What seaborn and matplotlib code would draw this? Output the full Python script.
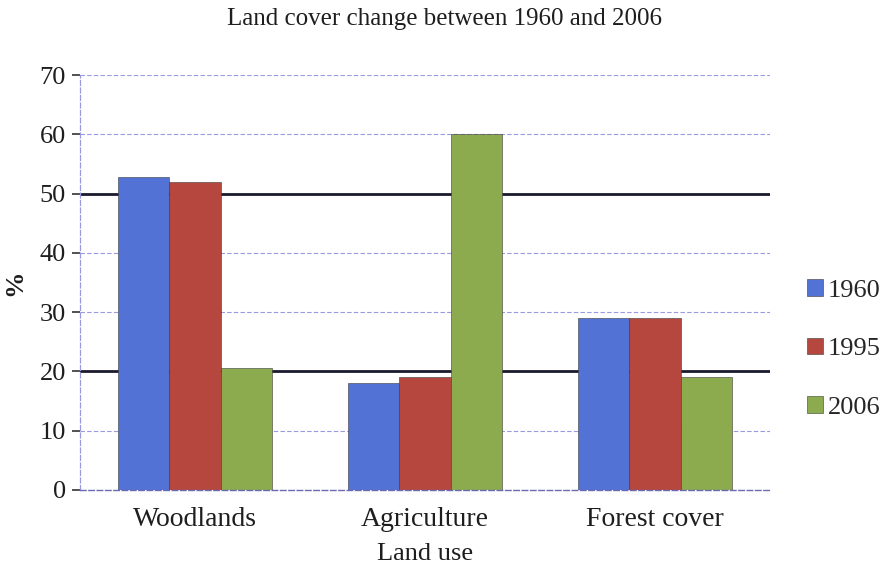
import matplotlib
matplotlib.use("Agg")
import matplotlib.pyplot as plt
import seaborn as sns
import pandas as pd

categories = ["Woodlands", "Agriculture", "Forest cover"]
years = ["1960", "1995", "2006"]
values_1960 = [52.8, 18, 29]
values_1995 = [52, 19, 29]
values_2006 = [20.6, 60, 19]
yticks = [0, 10, 20, 30, 40, 50, 60, 70]
highlight_levels = [20, 50]

colors = ["#5272D6", "#B5473E", "#8CAB4E"]

rows = []
for year, vals in zip(years, [values_1960, values_1995, values_2006]):
    for cat, v in zip(categories, vals):
        rows.append({"Land use": cat, "Year": year, "%": v})
df = pd.DataFrame(rows)

sns.set_theme(style="white")
plt.rcParams["font.family"] = ["Liberation Serif", "DejaVu Serif"]

fig = plt.figure(figsize=(8.89, 5.69), dpi=100)
ax = fig.add_axes([0.09, 0.139, 0.776, 0.729])

# light dashed gridlines and heavy reference lines
for t in yticks:
    if t in highlight_levels:
        ax.axhline(t, color="#1a1a2e", lw=2.0, zorder=0.5)
    elif t != 0:
        ax.axhline(t, color="#9a9ae0", lw=0.8, ls=(0, (4, 2)), zorder=0.5)

sns.barplot(data=df, x="Land use", y="%", hue="Year", hue_order=years,
            order=categories, palette=colors, saturation=1, width=0.67,
            edgecolor="#3a3a3a", linewidth=0.4, ax=ax, zorder=2)

ax.set_xlim(-0.5, 2.5)
ax.set_ylim(0, 70)
ax.set_yticks(yticks)
ax.set_yticklabels([str(t) for t in yticks], fontsize=19, color="#1e1e1e")
ax.tick_params(axis="y", which="major", length=6, width=1.2, color="#333333",
               left=True, pad=4)
ax.tick_params(axis="x", length=0, pad=12, labelsize=20, labelcolor="#1e1e1e")

for side in ["top", "right"]:
    ax.spines[side].set_visible(False)
ax.spines["left"].set_color("#9a9ae0")
ax.spines["left"].set_linestyle((0, (4, 2)))
ax.spines["left"].set_linewidth(0.9)
ax.spines["bottom"].set_color("#6a6ab0")
ax.spines["bottom"].set_linestyle((0, (4, 2)))
ax.spines["bottom"].set_linewidth(1.0)

ax.set_xlabel("Land use", fontsize=19, color="#1e1e1e", labelpad=8)
ax.set_ylabel("")
fig.text(15 / 889, 1 - 283 / 569, "%", rotation=90, ha="center", va="center",
         fontsize=19, fontweight="bold", color="#1e1e1e")

handles, labels = ax.get_legend_handles_labels()
ax.legend(handles, labels, loc="center left", bbox_to_anchor=(1.0, 0.34),
          frameon=False, fontsize=19, handlelength=0.6, handleheight=0.6,
          handletextpad=0.2, labelspacing=1.35, borderaxespad=1.0)

fig.text(0.5, 0.966, "Land cover change between 1960 and 2006",
         ha="center", va="center", fontsize=18, color="#1e1e1e")

fig.savefig("out.png", dpi=100)
